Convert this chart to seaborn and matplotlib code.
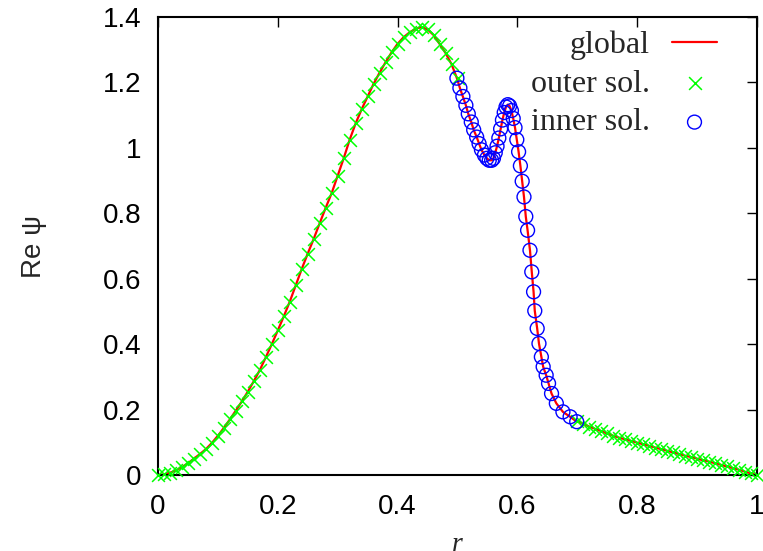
import matplotlib
matplotlib.use('Agg')
import matplotlib.pyplot as plt
import seaborn as sns
import pandas as pd

# outer solution, r in [0, 0.5]
r_outer_left = [0.00, 0.01, 0.02, 0.03, 0.04, 0.05, 0.06, 0.07, 0.08, 0.09,
                0.10, 0.11, 0.12, 0.13, 0.14, 0.15, 0.16, 0.17, 0.18, 0.19,
                0.20, 0.21, 0.22, 0.23, 0.24, 0.25, 0.26, 0.27, 0.28, 0.29,
                0.30, 0.31, 0.32, 0.33, 0.34, 0.35, 0.36, 0.37, 0.38, 0.39,
                0.40, 0.41, 0.42, 0.43, 0.44, 0.45, 0.46, 0.47, 0.48, 0.49,
                0.50]
psi_outer_left = [0.000, 0.002, 0.007, 0.014, 0.024, 0.036, 0.050, 0.064, 0.079, 0.098,
                  0.120, 0.144, 0.170, 0.197, 0.225, 0.255, 0.287, 0.321, 0.360, 0.400,
                  0.442, 0.485, 0.530, 0.580, 0.630, 0.677, 0.722, 0.770, 0.817, 0.862,
                  0.915, 0.968, 1.025, 1.075, 1.118, 1.157, 1.196, 1.230, 1.262, 1.292,
                  1.318, 1.338, 1.353, 1.364, 1.369, 1.362, 1.345, 1.318, 1.290, 1.256,
                  1.215]

# outer solution, r in [0.7, 1]
r_outer_right = [0.70, 0.71, 0.72, 0.73, 0.74, 0.75, 0.76, 0.77, 0.78, 0.79,
                 0.80, 0.81, 0.82, 0.83, 0.84, 0.85, 0.86, 0.87, 0.88, 0.89,
                 0.90, 0.91, 0.92, 0.93, 0.94, 0.95, 0.96, 0.97, 0.98, 0.99,
                 1.00]
psi_outer_right = [0.165, 0.156, 0.148, 0.141, 0.134, 0.127, 0.120, 0.114, 0.109, 0.104,
                   0.099, 0.094, 0.089, 0.084, 0.079, 0.074, 0.069, 0.064, 0.059, 0.055,
                   0.050, 0.045, 0.041, 0.036, 0.031, 0.026, 0.021, 0.016, 0.010, 0.005,
                   0.000]

# inner solution, r in [0.5, 0.7]
r_inner = [0.499, 0.504, 0.509, 0.514, 0.518, 0.523, 0.527, 0.532, 0.536, 0.540,
           0.545, 0.549, 0.553, 0.557, 0.560, 0.563, 0.566, 0.569, 0.572, 0.575,
           0.578, 0.581, 0.584, 0.587, 0.590, 0.593, 0.596, 0.599, 0.602, 0.605,
           0.608, 0.611, 0.614, 0.617, 0.621, 0.624, 0.627, 0.629, 0.633, 0.636,
           0.640, 0.643, 0.648, 0.652, 0.657, 0.665, 0.676, 0.688, 0.699]
psi_inner = [1.213, 1.183, 1.157, 1.130, 1.104, 1.079, 1.055, 1.033, 1.013, 0.994,
             0.978, 0.968, 0.962, 0.962, 0.968, 0.985, 1.005, 1.030, 1.058, 1.085,
             1.108, 1.125, 1.132, 1.128, 1.114, 1.090, 1.062, 1.025, 0.988, 0.945,
             0.898, 0.850, 0.790, 0.748, 0.687, 0.621, 0.560, 0.502, 0.448, 0.402,
             0.361, 0.331, 0.305, 0.280, 0.249, 0.219, 0.193, 0.178, 0.163]

x_ticks = [0, 0.2, 0.4, 0.6, 0.8, 1.0]
x_tick_labels = ['0', '0.2', '0.4', '0.6', '0.8', '1']
y_ticks = [0, 0.2, 0.4, 0.6, 0.8, 1.0, 1.2, 1.4]
y_tick_labels = ['0', '0.2', '0.4', '0.6', '0.8', '1', '1.2', '1.4']

df_outer = pd.DataFrame({'r': r_outer_left + r_outer_right,
                         'psi': psi_outer_left + psi_outer_right})
df_inner = pd.DataFrame({'r': r_inner, 'psi': psi_inner})
df_global = pd.concat([pd.DataFrame({'r': r_outer_left[:-1], 'psi': psi_outer_left[:-1]}),
                       df_inner,
                       pd.DataFrame({'r': r_outer_right, 'psi': psi_outer_right})]).sort_values('r')

sns.set_style('white')
plt.rcParams['font.family'] = ['Liberation Sans', 'DejaVu Sans']

fig = plt.figure(figsize=(7.63, 5.51), dpi=100)
ax = fig.add_axes([158 / 763, 1 - 475 / 551, 599 / 763, 458 / 551])

sns.lineplot(data=df_global, x='r', y='psi', ax=ax, color='#ff0000', linewidth=1.6,
             sort=False, estimator=None, label='global')
sns.scatterplot(data=df_outer, x='r', y='psi', ax=ax, marker='x', color='#00ff00',
                s=85, linewidth=1.1, clip_on=False, label='outer sol.', zorder=3)
sns.scatterplot(data=df_inner, x='r', y='psi', ax=ax, marker='o', facecolor='none',
                edgecolor='#0000ff', s=100, linewidth=1.0, clip_on=False,
                label='inner sol.', zorder=4)

ax.set_xlim(0, 1)
ax.set_ylim(0, 1.4)
ax.set_xticks(x_ticks)
ax.set_xticklabels(x_tick_labels)
ax.set_yticks(y_ticks)
ax.set_yticklabels(y_tick_labels)
ax.tick_params(direction='in', length=7, width=1, color='black', labelsize=20,
               top=True, right=True, labelcolor='black')
ax.tick_params(axis='x', pad=14)
ax.tick_params(axis='y', pad=12)
for sp in ax.spines.values():
    sp.set_color('black')
    sp.set_linewidth(1.5)

ax.set_xlabel('r', fontsize=20, family='Liberation Serif', style='italic', labelpad=8)
ax.set_ylabel('Re ψ', fontsize=20, labelpad=40)

leg = ax.legend(loc='upper right', bbox_to_anchor=(0.933, 0.970), frameon=False,
                markerfirst=False, handlelength=1.4, handletextpad=0.7,
                labelspacing=0.29, borderpad=0, borderaxespad=0,
                prop={'family': 'Liberation Serif', 'size': 23})

fig.savefig('out.png', dpi=100)
